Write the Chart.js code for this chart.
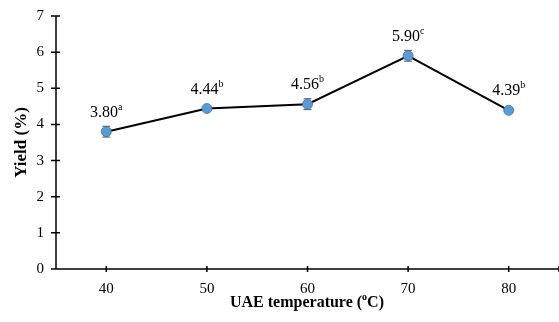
<!DOCTYPE html>
<html>
<head>
<meta charset="utf-8">
<script src="https://cdn.jsdelivr.net/npm/chart.js@4/dist/chart.umd.min.js"></script>
<style>
  html, body { margin: 0; padding: 0; background: #fff; }
  #wrap { width: 559px; height: 322px; }
</style>
</head>
<body>
<div id="wrap"><canvas id="chart" width="559" height="322"></canvas></div>
<script>
const temperatures = [40, 50, 60, 70, 80];
const yields = [3.80, 4.44, 4.56, 5.90, 4.39];
const errors = [0.15, 0.03, 0.15, 0.15, 0.03];
const letters = ['a', 'b', 'b', 'c', 'b'];
const yTicks = [0, 1, 2, 3, 4, 5, 6, 7];

const SERIF = '"Liberation Serif", "Times New Roman", serif';

// error bars, value labels, crossing ticks and axis titles
const extras = {
  id: 'extras',
  afterDatasetsDraw(chart) {
    const ctx = chart.ctx;
    const x = chart.scales.x, y = chart.scales.y;
    const area = chart.chartArea;
    ctx.save();

    // axes and ticks
    ctx.strokeStyle = '#000';
    ctx.lineWidth = 1.5;
    ctx.beginPath();
    ctx.moveTo(area.left, area.top);
    ctx.lineTo(area.left, area.bottom);
    ctx.lineTo(area.right, area.bottom);
    yTicks.forEach(v => {
      const py = y.getPixelForValue(v);
      ctx.moveTo(area.left - 5, py);
      ctx.lineTo(area.left + 4, py);
    });
    temperatures.concat([x.max]).forEach(v => {
      const px = x.getPixelForValue(v);
      ctx.moveTo(px, area.bottom - 3);
      ctx.lineTo(px, area.bottom + 3);
    });
    ctx.stroke();

    // error bars (drawn under points)
    ctx.strokeStyle = '#555';
    ctx.lineWidth = 1;
    temperatures.forEach((t, i) => {
      const px = x.getPixelForValue(t);
      const hi = y.getPixelForValue(yields[i] + errors[i]);
      const lo = y.getPixelForValue(yields[i] - errors[i]);
      ctx.beginPath();
      ctx.moveTo(px, hi); ctx.lineTo(px, lo);
      ctx.moveTo(px - 4, hi); ctx.lineTo(px + 4, hi);
      ctx.moveTo(px - 4, lo); ctx.lineTo(px + 4, lo);
      ctx.stroke();
    });

    // value labels with superscript letters
    ctx.fillStyle = '#000';
    ctx.textBaseline = 'alphabetic';
    temperatures.forEach((t, i) => {
      const px = x.getPixelForValue(t);
      const py = y.getPixelForValue(yields[i]);
      const main = yields[i].toFixed(2);
      ctx.font = '16px ' + SERIF;
      const w1 = ctx.measureText(main).width;
      ctx.font = '10px ' + SERIF;
      const w2 = ctx.measureText(letters[i]).width;
      const start = px - (w1 + w2) / 2;
      ctx.font = '16px ' + SERIF;
      ctx.textAlign = 'left';
      ctx.fillText(main, start, py - 15);
      ctx.font = '10px ' + SERIF;
      ctx.fillText(letters[i], start + w1, py - 22);
    });

    // x title
    ctx.font = 'bold 16px ' + SERIF;
    const p1 = 'UAE temperature (', p2 = 'o', p3 = 'C)';
    const a = ctx.measureText(p1).width;
    ctx.font = 'bold 10px ' + SERIF;
    const b = ctx.measureText(p2).width;
    ctx.font = 'bold 16px ' + SERIF;
    const c = ctx.measureText(p3).width;
    let sx = 307 - (a + b + c) / 2;
    ctx.fillText(p1, sx, 307);
    ctx.font = 'bold 10px ' + SERIF;
    ctx.fillText(p2, sx + a, 300);
    ctx.font = 'bold 16px ' + SERIF;
    ctx.fillText(p3, sx + a + b, 307);

    // y title
    ctx.translate(22, (area.top + area.bottom) / 2);
    ctx.rotate(-Math.PI / 2);
    ctx.textAlign = 'center';
    ctx.textBaseline = 'middle';
    ctx.font = 'bold 17px ' + SERIF;
    ctx.fillText('Yield (%)', 0, 0);
    ctx.restore();
  }
};

// draw points after error bars
const pointsOnTop = {
  id: 'pointsOnTop',
  afterDraw(chart) {
    const meta = chart.getDatasetMeta(0);
    const ctx = chart.ctx;
    ctx.save();
    meta.data.forEach(pt => {
      ctx.beginPath();
      ctx.arc(pt.x, pt.y, 5, 0, Math.PI * 2);
      ctx.fillStyle = '#5b9bd5';
      ctx.fill();
      ctx.lineWidth = 0.8;
      ctx.strokeStyle = '#41719c';
      ctx.stroke();
    });
    ctx.restore();
  }
};

new Chart(document.getElementById('chart'), {
  type: 'line',
  data: {
    datasets: [{
      data: temperatures.map((t, i) => ({ x: t, y: yields[i] })),
      borderColor: '#000',
      borderWidth: 2,
      pointRadius: 0,
      tension: 0
    }]
  },
  options: {
    responsive: false,
    animation: false,
    layout: { padding: { top: 16, right: 0, left: 0, bottom: 0 } },
    plugins: { legend: { display: false }, tooltip: { enabled: false } },
    scales: {
      x: {
        type: 'linear',
        min: 35,
        max: 85,
        afterBuildTicks: s => { s.ticks = temperatures.map(v => ({ value: v })); },
        afterFit: s => { s.height = 53; },
        grid: { display: false },
        border: { display: false },
        ticks: { padding: 3, color: '#000', font: { family: SERIF, size: 15 } }
      },
      y: {
        min: 0,
        max: 7,
        afterBuildTicks: s => { s.ticks = yTicks.map(v => ({ value: v })); },
        afterFit: s => { s.width = 56; },
        grid: { display: false },
        border: { display: false },
        ticks: { padding: 4, color: '#000', font: { family: SERIF, size: 15 } }
      }
    }
  },
  plugins: [extras, pointsOnTop]
});
</script>
</body>
</html>
